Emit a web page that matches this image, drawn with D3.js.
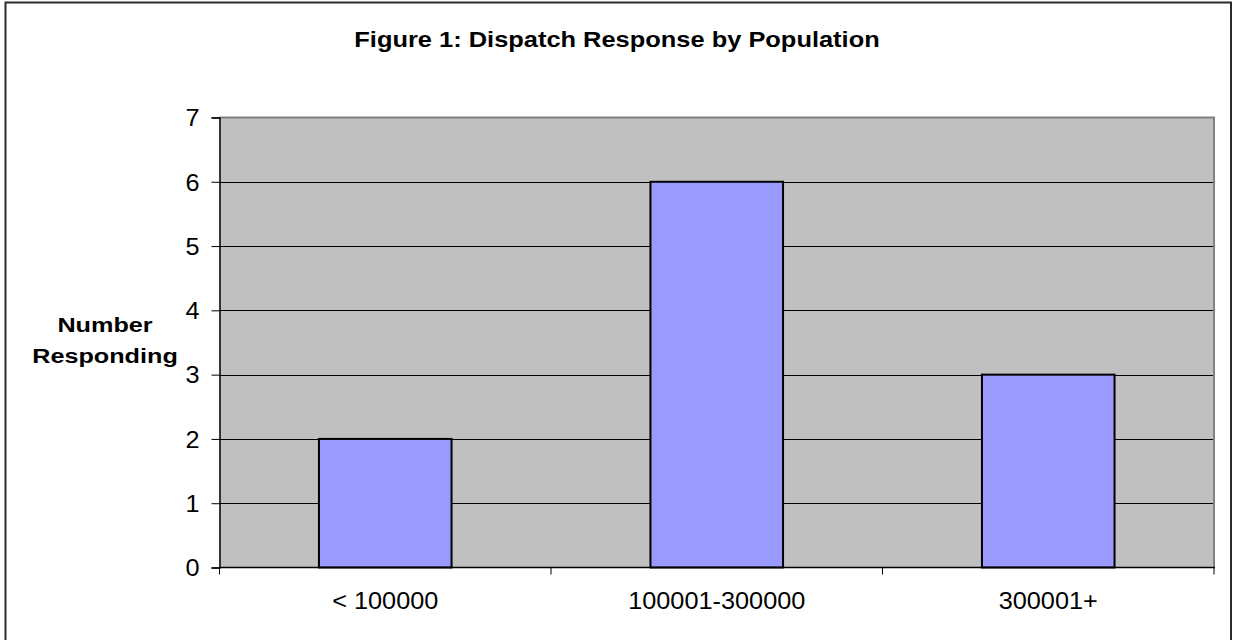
<!DOCTYPE html>
<html>
<head>
<meta charset="utf-8">
<script src="https://cdn.jsdelivr.net/npm/d3@7"></script>
<style>
  html, body { margin: 0; padding: 0; background: #fff; }
  svg { display: block; }
  text { font-family: Arial, "Liberation Sans", Helvetica, sans-serif; fill: #000; }
</style>
</head>
<body>
<svg id="chart" width="1233" height="640"></svg>
<script>
// Survey counts by population bracket
const categories = ["< 100000", "100001-300000", "300001+"];
const responses = [2, 6, 3];
const yTicks = [0, 1, 2, 3, 4, 5, 6, 7];
const titleText = "Figure 1: Dispatch Response by Population";
const yLabelLines = ["Number", "Responding"];

const W = 1233, H = 640;
const plot = { left: 219.5, right: 1214, top: 117.5, bottom: 567.5 };
const sxTick = 1.1;   // horizontal text stretch for tick labels
const sxTitle = 1.13;
const sxLabel = 1.2;

const svg = d3.select("#chart");

// outer frame
svg.append("rect")
  .attr("x", 5.5).attr("y", 2.5)
  .attr("width", 1225.5).attr("height", 660)
  .attr("fill", "#fff").attr("stroke", "#2b2b2b").attr("stroke-width", 2);

const x = d3.scaleBand().domain(categories).range([plot.left, plot.right]).padding(0);
const y = d3.scaleLinear().domain([0, 7]).range([plot.bottom, plot.top]);

// plot background
svg.append("rect")
  .attr("x", plot.left).attr("y", plot.top)
  .attr("width", plot.right - plot.left).attr("height", plot.bottom - plot.top)
  .attr("fill", "#c0c0c0");

// horizontal gridlines
svg.append("g").selectAll("line")
  .data(yTicks.filter(t => t > 0 && t < 7))
  .join("line")
  .attr("x1", plot.left).attr("x2", plot.right)
  .attr("y1", d => Math.round(y(d)) + 0.5).attr("y2", d => Math.round(y(d)) + 0.5)
  .attr("stroke", "#000").attr("stroke-width", 1);

// top and right border of plot area
svg.append("path")
  .attr("d", `M${plot.left},${plot.top}H${plot.right}V${plot.bottom}`)
  .attr("fill", "none").attr("stroke", "#808080").attr("stroke-width", 2);

// bars
const barW = x.bandwidth() * 0.4;
svg.append("g").selectAll("rect")
  .data(responses)
  .join("rect")
  .attr("x", (d, i) => x(categories[i]) + (x.bandwidth() - barW) / 2)
  .attr("y", d => y(d))
  .attr("width", barW)
  .attr("height", d => y(0) - y(d))
  .attr("fill", "#9999ff")
  .attr("stroke", "#000").attr("stroke-width", 2);

// y axis
const yAxis = svg.append("g")
  .attr("transform", `translate(${plot.left},0)`)
  .call(d3.axisLeft(y).tickValues(yTicks).tickSize(8).tickPadding(12).tickFormat(d3.format("d")));
yAxis.select(".domain").attr("stroke", "#000").attr("stroke-width", 1.5);
yAxis.selectAll(".tick line").attr("stroke", "#000");
yAxis.selectAll(".tick text")
  .attr("font-size", 23)
  .attr("font-family", "Arial, 'Liberation Sans', sans-serif")
  .attr("dy", "0.36em")
  .attr("transform", function () { const xx = +d3.select(this).attr("x"); return `translate(${xx * (1 - sxTick)},0) scale(${sxTick},1)`; });

// x axis with ticks at category boundaries
const xAxisG = svg.append("g").attr("transform", `translate(0,${plot.bottom})`);
xAxisG.append("line")
  .attr("x1", plot.left).attr("x2", plot.right + 1).attr("y1", 0).attr("y2", 0)
  .attr("stroke", "#000").attr("stroke-width", 1.5);
const boundaries = categories.map(c => x(c)).concat([plot.right]);
xAxisG.selectAll("line.tick")
  .data(boundaries)
  .join("line")
  .attr("class", "tick")
  .attr("x1", d => d).attr("x2", d => d)
  .attr("y1", 0).attr("y2", 7)
  .attr("stroke", "#000").attr("stroke-width", 1);
xAxisG.selectAll("text")
  .data(categories)
  .join("text")
  .attr("text-anchor", "middle")
  .attr("font-size", 23)
  .attr("transform", d => `translate(${x(d) + x.bandwidth() / 2},41.5) scale(${sxTick},1)`)
  .text(d => d);

// title
svg.append("text")
  .attr("text-anchor", "middle")
  .attr("font-size", 22.5)
  .attr("font-weight", "bold")
  .attr("transform", `translate(${W / 2 + 0.5},47) scale(${sxTitle},1)`)
  .text(titleText);

// y axis title
svg.append("g").selectAll("text")
  .data(yLabelLines)
  .join("text")
  .attr("text-anchor", "middle")
  .attr("font-size", 21)
  .attr("font-weight", "bold")
  .attr("transform", (d, i) => `translate(105,${332 + i * 31}) scale(${sxLabel},1)`)
  .text(d => d);
</script>
</body>
</html>
